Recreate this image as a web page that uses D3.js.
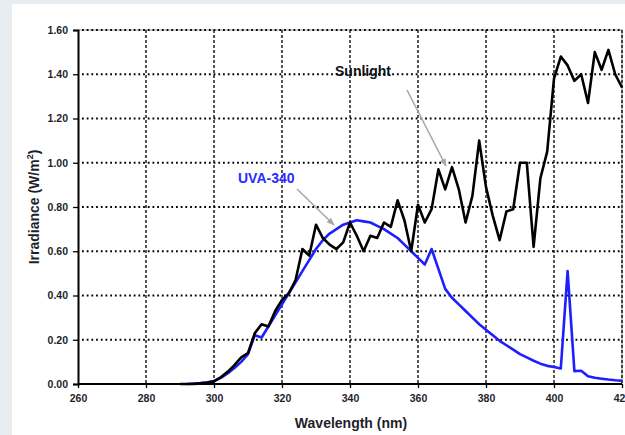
<!DOCTYPE html>
<html>
<head>
<meta charset="utf-8">
<script src="https://cdn.jsdelivr.net/npm/d3@7"></script>
<style>
  body { margin: 0; background: #e7edf0; }
  svg { display: block; font-family: "Liberation Sans", Arial, sans-serif; }
</style>
</head>
<body>
<script>
// wavelength steps (nm)
var sunNm = d3.range(290, 421, 2);
var sunVal = [0, 0, 0, 0.003, 0.006, 0.012, 0.03, 0.055, 0.085, 0.12,
  0.14, 0.23, 0.27, 0.26, 0.33, 0.38, 0.41, 0.47, 0.61, 0.58,
  0.72, 0.66, 0.63, 0.61, 0.64, 0.73, 0.67, 0.60, 0.67, 0.66,
  0.73, 0.71, 0.83, 0.74, 0.60, 0.81, 0.73, 0.79, 0.97, 0.88,
  0.98, 0.88, 0.73, 0.85, 1.10, 0.89, 0.76, 0.65, 0.78, 0.79,
  1.00, 1.00, 0.62, 0.93, 1.05, 1.38, 1.48, 1.44, 1.37, 1.40,
  1.27, 1.50, 1.42, 1.51, 1.40, 1.34];

var uvaNm = d3.range(292, 421, 2);
var uvaVal = [0, 0.002, 0.004, 0.008, 0.014, 0.028, 0.048, 0.072, 0.10,
  0.135, 0.22, 0.21, 0.26, 0.31, 0.36, 0.41, 0.46, 0.51, 0.56,
  0.61, 0.65, 0.68, 0.70, 0.72, 0.73, 0.74, 0.735, 0.73, 0.715,
  0.70, 0.68, 0.66, 0.63, 0.60, 0.57, 0.54, 0.61, 0.52, 0.43,
  0.39, 0.36, 0.33, 0.30, 0.27, 0.245, 0.22, 0.195, 0.175, 0.155,
  0.135, 0.12, 0.105, 0.092, 0.082, 0.077, 0.07, 0.51, 0.058, 0.06,
  0.035, 0.028, 0.024, 0.02, 0.017, 0.015];

var xTicks = [260, 280, 300, 320, 340, 360, 380, 400, 420];
var yTicks = [0, 0.2, 0.4, 0.6, 0.8, 1.0, 1.2, 1.4, 1.6];

var width = 625, height = 435;
var svg = d3.select("body").append("svg").attr("width", width).attr("height", height);

// white panel
svg.append("rect").attr("x", 12).attr("y", 4).attr("width", width - 12).attr("height", height - 4).attr("fill", "#fff");

var x = d3.scaleLinear().domain([260, 420]).range([78, 622]);
var y = d3.scaleLinear().domain([0, 1.6]).range([384, 30]);

// frame top/right
svg.append("path")
  .attr("d", "M78," + y(1.6) + "H" + x(420) + "V" + y(0))
  .attr("fill", "none").attr("stroke", "#9a9a9a").attr("stroke-width", 1.2);

// grid
svg.append("g").selectAll("line")
  .data(xTicks.slice(1))
  .enter().append("line")
  .attr("x1", d => x(d)).attr("x2", d => x(d))
  .attr("y1", y(1.6)).attr("y2", y(0))
  .attr("stroke", "#000").attr("stroke-width", 1.3).attr("stroke-dasharray", "3,2");

svg.append("g").selectAll("line")
  .data(yTicks.slice(1))
  .enter().append("line")
  .attr("x1", 82).attr("x2", x(420))
  .attr("y1", d => y(d)).attr("y2", d => y(d))
  .attr("stroke", "#000").attr("stroke-width", 1.8).attr("stroke-dasharray", "1.8,2.9");

// axes
var xAxis = svg.append("g").attr("transform", "translate(0," + y(0) + ")")
  .call(d3.axisBottom(x).tickValues(xTicks).tickSize(4).tickPadding(7).tickFormat(d3.format("d")));
var yAxis = svg.append("g").attr("transform", "translate(78,0)")
  .call(d3.axisLeft(y).tickValues(yTicks).tickSize(5).tickPadding(5).tickFormat(d3.format(".2f")));
[xAxis, yAxis].forEach(function (a) {
  a.select(".domain").attr("stroke", "#000").attr("stroke-width", 2);
  a.selectAll(".tick line").attr("stroke", "#000").attr("stroke-width", 1.3);
  a.selectAll("text").attr("font-size", "10.5px").attr("font-weight", "bold").attr("fill", "#1f1f2a")
    .attr("font-family", "'Liberation Sans', Arial, sans-serif");
});
xAxis.select(".domain").attr("d", "M" + x(260) + ",0H" + x(420));

// lines
var line = d3.line().x(d => x(d[0])).y(d => y(d[1]));
svg.append("path")
  .datum(d3.zip(uvaNm, uvaVal))
  .attr("d", line).attr("fill", "none").attr("stroke", "#1e1eff").attr("stroke-width", 2.6)
  .attr("stroke-linejoin", "round");
svg.append("path")
  .datum(d3.zip(sunNm, sunVal))
  .attr("d", line).attr("fill", "none").attr("stroke", "#000").attr("stroke-width", 2.6)
  .attr("stroke-linejoin", "round");

// annotations
var defs = svg.append("defs");
defs.append("marker").attr("id", "arr").attr("viewBox", "0 0 10 10").attr("refX", 9).attr("refY", 5)
  .attr("markerWidth", 5).attr("markerHeight", 5).attr("orient", "auto")
  .append("path").attr("d", "M0,1L10,5L0,9z").attr("fill", "#a8a8a8");

svg.append("line").attr("x1", 407).attr("y1", 90).attr("x2", 446).attr("y2", 166)
  .attr("stroke", "#a8a8a8").attr("stroke-width", 1.6).attr("marker-end", "url(#arr)");
svg.append("line").attr("x1", 297).attr("y1", 189).attr("x2", 334).attr("y2", 225)
  .attr("stroke", "#a8a8a8").attr("stroke-width", 1.6).attr("marker-end", "url(#arr)");

svg.append("text").attr("x", 335).attr("y", 76).attr("font-size", "14px").attr("font-weight", "bold")
  .attr("fill", "#111").text("Sunlight");
svg.append("text").attr("x", 238).attr("y", 183).attr("font-size", "14px").attr("font-weight", "bold")
  .attr("fill", "#2b2bff").text("UVA-340");

// axis titles
svg.append("text").attr("x", 351).attr("y", 428).attr("text-anchor", "middle")
  .attr("font-size", "14px").attr("font-weight", "bold").attr("fill", "#1f1f2a").text("Wavelength (nm)");
var yt = svg.append("text").attr("transform", "translate(39,207) rotate(-90)").attr("text-anchor", "middle")
  .attr("font-size", "14px").attr("font-weight", "bold").attr("fill", "#1f1f2a");
yt.append("tspan").text("Irradiance (W/m");
yt.append("tspan").attr("dy", -6).attr("font-size", "9px").text("2");
yt.append("tspan").attr("dy", 6).text(")");
</script>
</body>
</html>
